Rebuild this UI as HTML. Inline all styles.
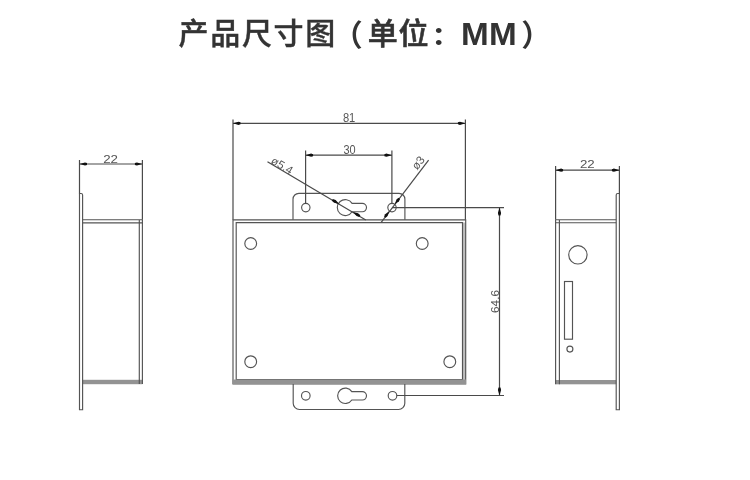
<!DOCTYPE html>
<html lang="zh-CN">
<head>
<meta charset="utf-8">
<title>产品尺寸图</title>
<style>
html,body{margin:0;padding:0;background:#fff;}
body{width:750px;height:480px;overflow:hidden;position:relative;font-family:"Liberation Sans","Noto Sans CJK SC",sans-serif;}
#title{will-change:transform;position:absolute;left:0;top:10px;width:750px;height:48px;line-height:48px;white-space:nowrap;color:#333;font-size:30px;font-weight:700;}
#title span{position:absolute;top:0;}
#t1{left:178.5px;font-weight:500;letter-spacing:1.7px;-webkit-text-stroke:0.4px #333;}
#t2{left:332.8px;top:1.5px !important;}
#t3{left:367.7px;font-weight:500;-webkit-text-stroke:0.6px #333;}
#t4{left:398.5px;font-weight:500;-webkit-text-stroke:0.6px #333;}
#t5{left:431.3px;top:0.6px !important;transform:scaleY(0.88);transform-origin:0 38px;}
#t6{left:461.2px;font-size:32px;letter-spacing:0.2px;top:0;transform:scaleX(1.04);transform-origin:0 0;}
#t7{left:521.2px;top:1.5px !important;}
svg{position:absolute;left:0;top:0;will-change:transform;}
.o{fill:none;stroke:#545454;stroke-width:1.15;}
.d{fill:none;stroke:#4a4a4a;stroke-width:1.2;}
.a{fill:#111;stroke:none;}
.g{fill:#939393;stroke:none;}
text{font-family:"Liberation Sans",sans-serif;fill:#555;}
</style>
</head>
<body>
<div id="title"><span id="t1">产品尺寸图</span><span id="t2">（</span><span id="t3">单</span><span id="t4">位</span><span id="t5">：</span><span id="t6">MM</span><span id="t7">）</span></div>
<svg width="750" height="480" viewBox="0 0 750 480">
<!-- LEFT VIEW -->
<g id="leftview">
  <rect class="g" x="82.600" y="379.800" width="59.800" height="4.400"/>
  <path class="o" d="M79.500 409.700V193.500h1.600a1.500 1.500 0 0 1 1.500 1.500V409.700Z"/>
  <path class="o" d="M82.600 219.700H142.400M82.600 222.900H142.400M139.300 219.700V384M142.400 219.700V384"/>
  <path class="d" d="M79.500 160V193.500M142.400 160V219.700M79.500 164H142.400"/>
  <path class="a" d="M79.500 164l5.500-1.600l2 .600v2l-2 .600ZM142.400 164l-5.500-1.600l-2 .600v2l2 .600Z"/>
  <text x="110.600" y="162.500" font-size="10.700" text-anchor="middle" textLength="14.800" lengthAdjust="spacingAndGlyphs">22</text>
</g>
<!-- CENTER VIEW -->
<g id="centerview">
  <path class="g" d="M462.500 222.500H465.700V384H462.500Z" opacity=".6"/>
  <path class="o" d="M233 219.800H465.700V384H233ZM236.200 222.600H462.500V379.500H236.200Z"/>
  <path class="g" d="M232.700 379.600H466V384.100H232.700Z"/>
  <circle class="o" cx="250.700" cy="243.500" r="5.900"/>
  <circle class="o" cx="422.200" cy="243.500" r="5.900"/>
  <circle class="o" cx="250.700" cy="361.700" r="5.900"/>
  <circle class="o" cx="449.800" cy="361.700" r="5.900"/>
  <!-- top tab -->
  <path class="o" d="M293 219.800V199.200a5.900 5.900 0 0 1 5.900-5.900H399a5.900 5.900 0 0 1 5.900 5.900V219.800"/>
  <circle class="o" cx="305.800" cy="207.600" r="4.200"/>
  <circle class="o" cx="392" cy="207.600" r="4.200"/>
  <path class="o" d="M352.100 203.400H362.300a4.200 4.200 0 0 1 0 8.400H352.100A8 8 0 1 1 352.100 203.400Z"/>
  <!-- bottom tab -->
  <path class="o" d="M293.200 384V403.200a6.300 6.300 0 0 0 6.300 6.300H398.500a6.300 6.300 0 0 0 6.300-6.300V384"/>
  <circle class="o" cx="305.800" cy="395.800" r="4.300"/>
  <circle class="o" cx="392.500" cy="395.800" r="4.300"/>
  <path class="o" d="M351.800 391.600H362.300a4.200 4.200 0 0 1 0 8.400H351.800A7.700 7.700 0 1 1 351.800 391.600Z"/>
  <!-- dim 81 -->
  <path class="d" d="M233 119.500V219.800M465.400 119.500V219.800M233 123.300H465.400"/>
  <path class="a" d="M233 123.300l5.500-1.600l2 .600v2l-2 .600ZM465.400 123.300l-5.500-1.600l-2 .600v2l2 .600Z"/>
  <text x="349.100" y="122.400" font-size="12" text-anchor="middle" textLength="12.400" lengthAdjust="spacingAndGlyphs">81</text>
  <!-- dim 30 -->
  <path class="d" d="M305.600 150.500V203.800M391.900 150.500V203.800M305.600 155.200H391.900"/>
  <path class="a" d="M305.600 155.200l5.500-1.600l2 .600v2l-2 .600ZM391.900 155.200l-5.500-1.600l-2 .600v2l2 .600Z"/>
  <text x="349.500" y="154.300" font-size="12" text-anchor="middle" textLength="12.200" lengthAdjust="spacingAndGlyphs">30</text>
  <!-- leader phi 5.4 -->
  <path class="d" d="M267.500 161.700L365.800 219.900"/>
  <path class="a" transform="translate(339.200 203.900) rotate(30.600)" d="M0 0l-5-1.500l-3 .5v2l3 .5Z"/>
  <path class="a" transform="translate(353 212.100) rotate(30.600)" d="M0 0l5-1.500l3 .5v2l-3 .5Z"/>
  <text transform="translate(270.500 162.200) rotate(30.600)" x="0" y="0.800" font-size="11.500" textLength="23.300" lengthAdjust="spacingAndGlyphs">ø5.4</text>
  <!-- leader phi 3 -->
  <path class="d" d="M428.600 160.100L381.200 222.300"/>
  <path class="a" transform="translate(394.700 204.300) rotate(-52.700)" d="M0 0l5-1.500l2.500 .5v2l-2.500 .5Z"/>
  <path class="a" transform="translate(389.400 211.100) rotate(-52.700)" d="M0 0l-5-1.500l-2.500 .5v2l2.500 .5Z"/>
  <text transform="translate(417.200 170.500) rotate(-52.700)" x="0" y="0" font-size="11.500" textLength="13.500" lengthAdjust="spacingAndGlyphs">ø3</text>
  <!-- dim 64.600 -->
  <path class="d" d="M392 207.600H504M396.800 395.500H504M499.500 207.600V395.500"/>
  <path class="a" d="M499.500 207.600l-1.600 5.500l.600 2.500h2l.600-2.500ZM499.500 395.500l-1.600-5.500l.600-2.500h2l.600 2.500Z"/>
  <text transform="translate(499.300 301.500) rotate(-90)" x="0" y="0" font-size="11.700" text-anchor="middle" textLength="23" lengthAdjust="spacingAndGlyphs">64.6</text>
</g>
<!-- RIGHT VIEW -->
<g id="rightview">
  <rect class="g" x="555.600" y="380" width="60.600" height="4.300"/>
  <path class="o" d="M616.200 409.700V195a1.500 1.500 0 0 1 1.500-1.500h1.700V409.700Z"/>
  <path class="o" d="M555.600 219.700H616.200M555.600 222.700H616.200M555.600 219.700V384.300M559.400 219.700V384.300"/>
  <circle class="o" cx="577.900" cy="254.800" r="9.200"/>
  <rect class="o" x="564.500" y="281.500" width="8" height="57.700"/>
  <circle class="o" cx="569.900" cy="349.100" r="3"/>
  <path class="d" d="M555.600 166V219.700M619.400 166V193.500M555.600 170.200H619.400"/>
  <path class="a" d="M555.600 170.200l5.500-1.600l2 .600v2l-2 .600ZM619.400 170.200l-5.500-1.600l-2 .600v2l2 .600Z"/>
  <text x="587.300" y="168.400" font-size="10.700" text-anchor="middle" textLength="14.800" lengthAdjust="spacingAndGlyphs">22</text>
</g>
</svg>
</body>
</html>
